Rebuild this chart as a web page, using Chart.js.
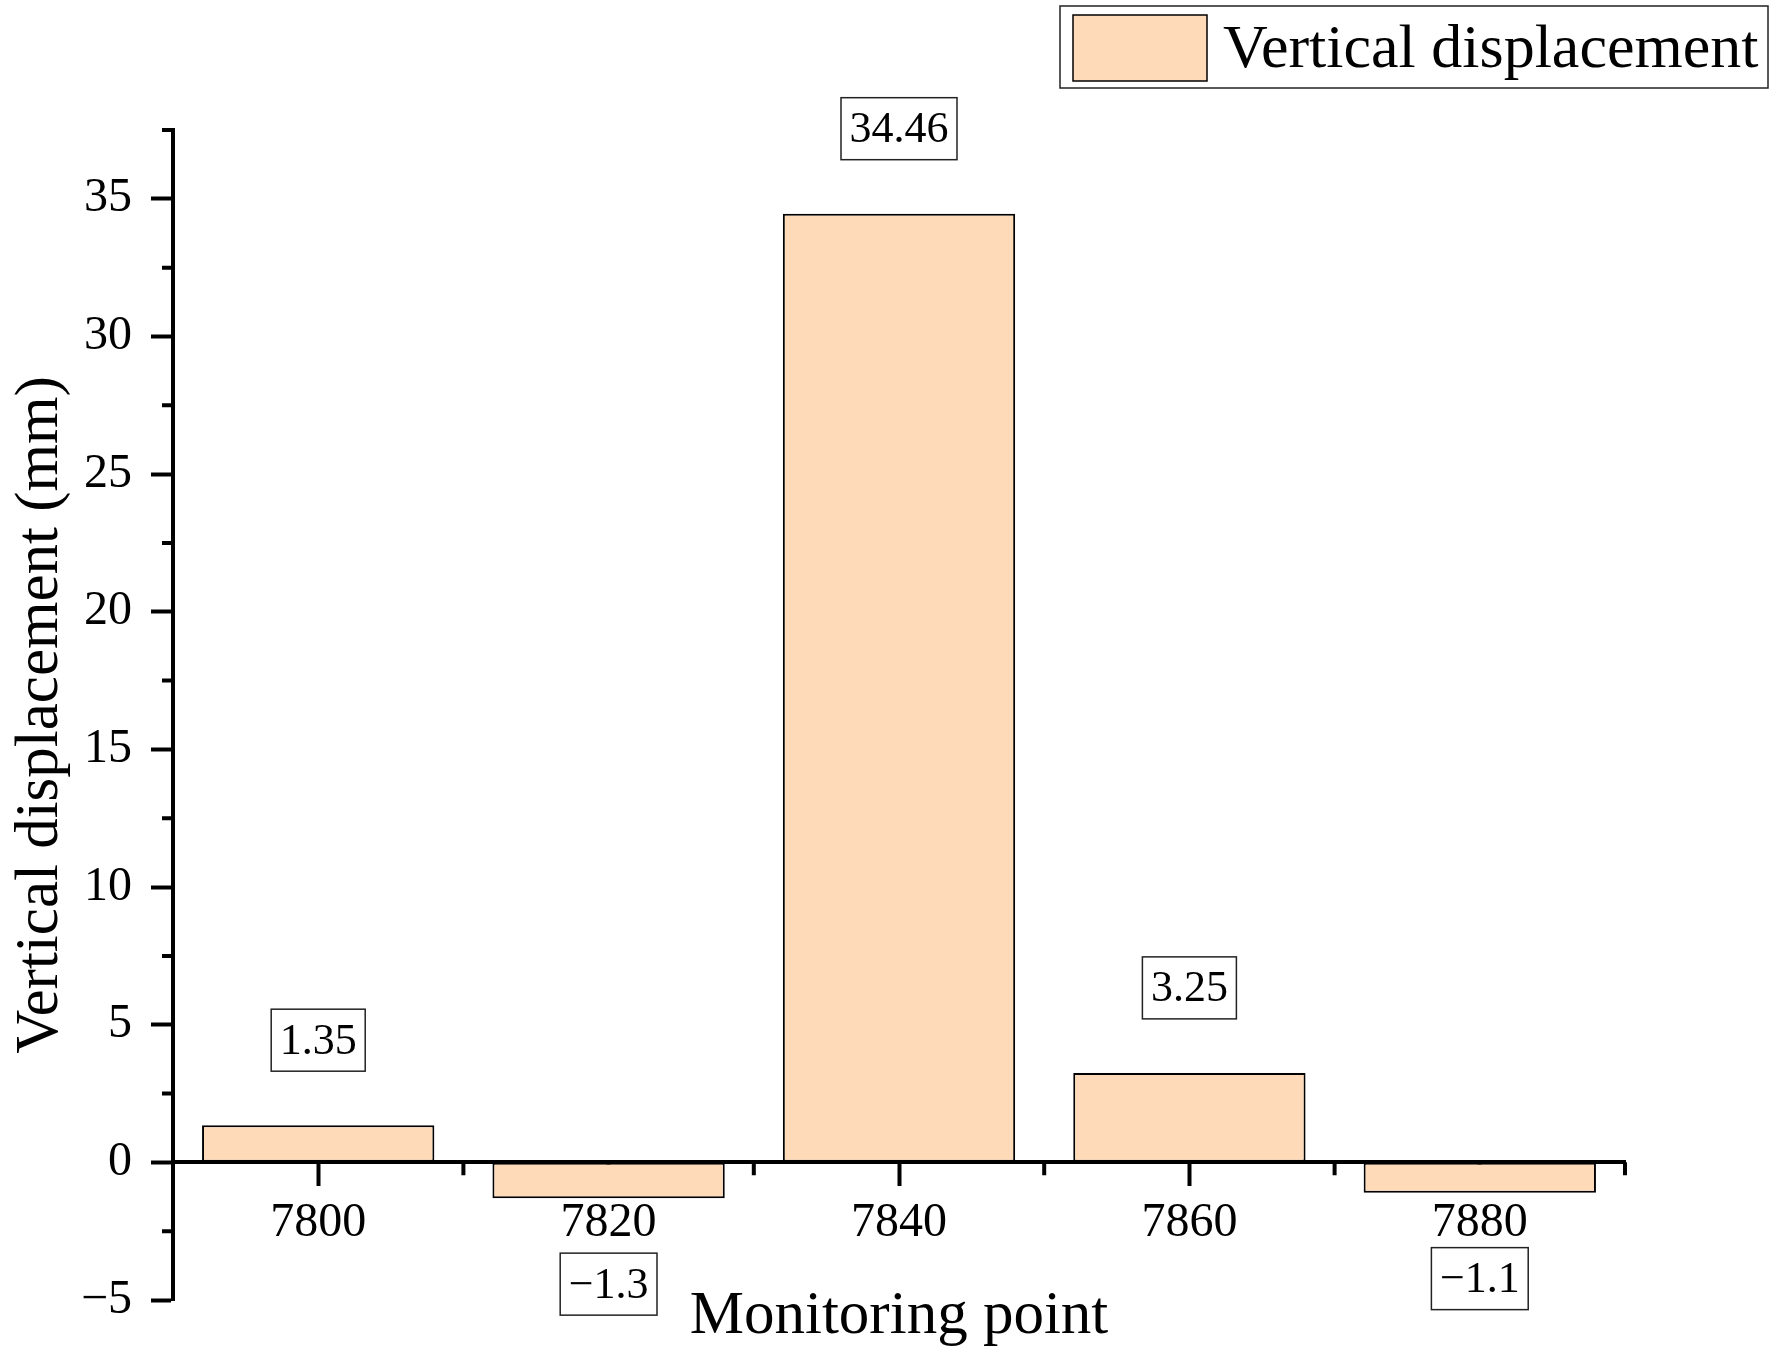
<!DOCTYPE html>
<html>
<head>
<meta charset="utf-8">
<script src="https://cdn.jsdelivr.net/npm/chart.js@4.4.1/dist/chart.umd.min.js"></script>
<style>
  html, body { margin: 0; padding: 0; background: #fff; }
  canvas { display: block; }
</style>
</head>
<body>
<canvas id="chart" width="1773" height="1359"></canvas>
<script>
// ── Data ──────────────────────────────────────────────────────────────
const POINTS       = ['7800', '7820', '7840', '7860', '7880'];
const DISPLACEMENT = [1.35, -1.3, 34.46, 3.25, -1.1];
const Y_TICKS      = [-5, 0, 5, 10, 15, 20, 25, 30, 35];
const Y_MINOR      = [-2.5, 2.5, 7.5, 12.5, 17.5, 22.5, 27.5, 32.5, 37.5];
const Y_MIN = -5, Y_MAX = 37.5;

const FONT  = "'Liberation Serif', 'Times New Roman', serif";
const PEACH = '#FFDAB9';
const minus = v => String(v).replace('-', '\u2212');

// ── Minor ticks, boxed value labels, framed legend ──────────────────────
const extras = {
  id: 'extras',
  afterDraw(chart) {
    const ctx = chart.ctx;
    const x = chart.scales.x, y = chart.scales.y;
    const y0 = y.getPixelForValue(0);
    ctx.save();

    // minor ticks
    ctx.strokeStyle = '#000';
    ctx.lineWidth = 4;
    ctx.beginPath();
    Y_MINOR.forEach(v => {
      const py = y.getPixelForValue(v);
      ctx.moveTo(y.right - 11, py);
      ctx.lineTo(y.right, py);
    });
    for (let i = 0; i < POINTS.length; i++) {
      const px = x.getPixelForValue(i + 0.5);
      ctx.moveTo(px, y0);
      ctx.lineTo(px, y0 + 13);
    }
    ctx.stroke();

    // value labels
    const meta = chart.getDatasetMeta(0);
    ctx.font = `44px ${FONT}`;
    ctx.textAlign = 'center';
    ctx.textBaseline = 'middle';
    meta.data.forEach((bar, i) => {
      const v = DISPLACEMENT[i];
      const cy = v >= 0 ? bar.y - 85 : bar.y + 86;
      const text = minus(v);
      const w = ctx.measureText(text).width + 17;
      const h = 62;
      ctx.fillStyle = '#fff';
      ctx.fillRect(bar.x - w / 2, cy - h / 2, w, h);
      ctx.strokeStyle = '#222';
      ctx.lineWidth = 1.5;
      ctx.strokeRect(bar.x - w / 2, cy - h / 2, w, h);
      ctx.fillStyle = '#000';
      ctx.fillText(text, bar.x, cy + 2);
    });

    // legend
    const ds = chart.data.datasets[0];
    const lx = chart.width - 713, ly = 6;
    ctx.strokeStyle = '#222';
    ctx.lineWidth = 1.5;
    ctx.strokeRect(lx, ly, 708, 82);
    ctx.fillStyle = ds.backgroundColor;
    ctx.fillRect(lx + 13, ly + 9, 134, 66);
    ctx.strokeStyle = '#000';
    ctx.strokeRect(lx + 13, ly + 9, 134, 66);
    ctx.fillStyle = '#000';
    ctx.font = `62px ${FONT}`;
    ctx.textAlign = 'left';
    ctx.textBaseline = 'alphabetic';
    ctx.fillText(ds.label, lx + 163, ly + 61);

    ctx.restore();
  },
};

// ── Chart ─────────────────────────────────────────────────────────────
new Chart(document.getElementById('chart'), {
  type: 'bar',
  data: {
    labels: POINTS,
    datasets: [{
      label: 'Vertical displacement',
      data: DISPLACEMENT,
      backgroundColor: PEACH,
      borderColor: '#000',
      borderWidth: 2,
      borderSkipped: false,
      barPercentage: 0.8,
      categoryPercentage: 1.0,
    }],
  },
  options: {
    responsive: false,
    animation: false,
    devicePixelRatio: 1,
    layout: { padding: { top: 130, right: 148, bottom: 59, left: 0 } },
    plugins: { legend: { display: false }, tooltip: { enabled: false } },
    scales: {
      x: {
        position: { y: 0 },
        offset: true,
        grid: { drawOnChartArea: false, drawTicks: true, tickLength: 22, tickWidth: 4, tickColor: '#000', offset: false },
        border: { display: true, color: '#000', width: 4 },
        ticks: { color: '#000', font: { family: FONT, size: 48 }, padding: 10, autoSkip: false, maxRotation: 0 },
        title: { display: true, text: 'Monitoring point', color: '#000', font: { family: FONT, size: 61 }, padding: { top: 18, bottom: 0 } },
      },
      y: {
        min: Y_MIN,
        max: Y_MAX,
        afterBuildTicks: s => { s.ticks = Y_TICKS.map(v => ({ value: v })); },
        afterFit: s => { s.width = 173; },
        grid: { drawOnChartArea: false, tickLength: 22, tickWidth: 4, tickColor: '#000' },
        border: { display: true, color: '#000', width: 4 },
        ticks: { color: '#000', font: { family: FONT, size: 48 }, padding: 19, callback: v => minus(v) },
        title: { display: true, text: 'Vertical displacement (mm)', color: '#000', font: { family: FONT, size: 61 }, padding: { top: 4, bottom: 0 } },
      },
    },
  },
  plugins: [extras],
});
</script>
</body>
</html>
